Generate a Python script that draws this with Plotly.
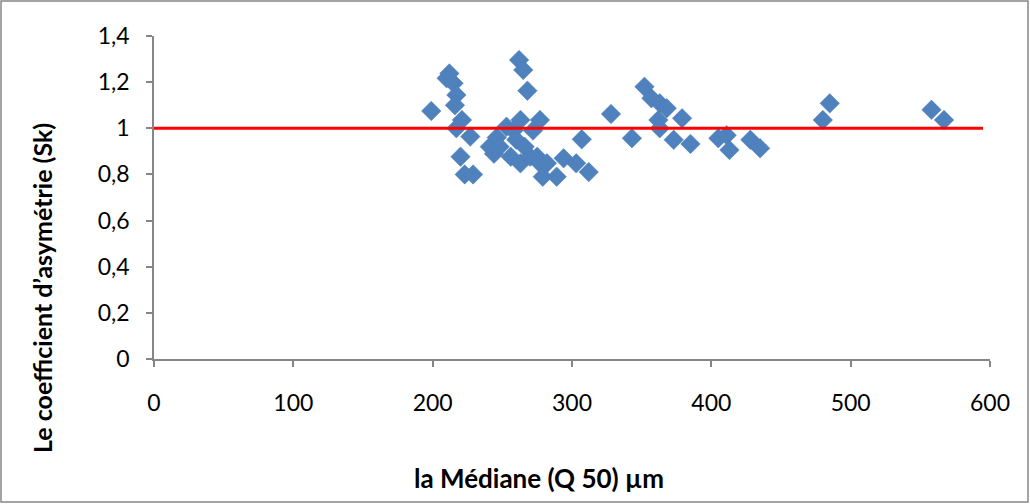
import plotly.graph_objects as go

# Data
mediane = [199, 210, 212, 215, 217, 216, 221, 217, 227, 220, 223, 229,
           241, 244, 246, 248, 253, 256, 258, 260, 262, 263, 263, 265, 266,
           268, 270, 272, 275, 277, 277, 279, 282, 289, 294, 303, 307, 312,
           328, 343, 352, 357, 363, 368, 362, 363, 373, 379, 385, 405, 411,
           413, 428, 435, 480, 485, 558, 567]
sk = [1.075, 1.217, 1.238, 1.195, 1.144, 1.10, 1.036, 1.00, 0.964, 0.877, 0.80, 0.80,
      0.92, 0.89, 0.96, 0.92, 1.007, 0.877, 0.99, 0.95, 1.296, 1.036, 0.848, 1.253, 0.92,
      1.163, 0.877, 0.99, 0.877, 1.036, 0.848, 0.79, 0.848, 0.79, 0.87, 0.848, 0.952, 0.81,
      1.062, 0.957, 1.18, 1.13, 1.108, 1.087, 1.036, 1.0, 0.95, 1.043, 0.932, 0.957, 0.97,
      0.906, 0.95, 0.913, 1.036, 1.108, 1.08, 1.036]
ref_x = [0, 595]
ref_y = [1, 1]

x_title = "la Médiane (Q 50) µm"
y_title = "Le coefficient d’asymétrie (Sk)"

W, H = 1030, 504
L, R, T, B = 154, 40, 36, 145
pw, ph = W - L - R, H - T - B

fig = go.Figure()
fig.add_trace(go.Scatter(x=mediane, y=sk, mode="markers",
                         marker=dict(symbol="diamond", size=15, color="#4F81BD",
                                     line=dict(color="#4A7EBB", width=0.5)),
                         showlegend=False))
fig.add_trace(go.Scatter(x=ref_x, y=ref_y, mode="lines",
                         line=dict(color="#FF0000", width=3), showlegend=False))

font_family = "Lato, 'Open Sans', sans-serif"
fig.update_layout(
    width=W, height=H,
    margin=dict(l=L, r=R, t=T, b=B),
    paper_bgcolor="white", plot_bgcolor="white",
    separators=", ",
    font=dict(family=font_family, size=23, color="black"),
    xaxis=dict(range=[0, 600], dtick=100, tick0=0, showgrid=False, zeroline=False,
               showline=True, linecolor="#868686", linewidth=1.5,
               ticks="outside", ticklen=6, tickcolor="#868686", tickwidth=1.5,
               ticklabelstandoff=17),
    yaxis=dict(range=[0, 1.4], dtick=0.2, tick0=0, showgrid=False, zeroline=False,
               showline=True, linecolor="#868686", linewidth=1.5,
               ticks="outside", ticklen=6, tickcolor="#868686", tickwidth=1.5,
               ticklabelstandoff=12),
)

fig.add_annotation(text="<b>" + x_title + "</b>", xref="paper", yref="paper",
                   x=(539 - L) / pw, y=(H - B - 478) / ph, showarrow=False,
                   xanchor="center", yanchor="middle",
                   font=dict(size=26, family=font_family))
fig.add_annotation(text="<b>" + y_title + "</b>", xref="paper", yref="paper",
                   x=(42 - L) / pw, y=(H - B - 288) / ph, showarrow=False, textangle=-90,
                   xanchor="center", yanchor="middle",
                   font=dict(size=25, family=font_family))

fig.add_shape(type="rect", xref="paper", yref="paper",
              x0=(1 - L) / pw, x1=(W - 2 - L) / pw,
              y0=(H - B - (H - 2)) / ph, y1=(H - B - 1) / ph,
              line=dict(color="#868686", width=1.5), fillcolor="rgba(0,0,0,0)", layer="below")

fig.write_html("out.html", config={"displayModeBar": False},
               post_script="document.body.style.margin='0';document.body.style.overflow='hidden';")
